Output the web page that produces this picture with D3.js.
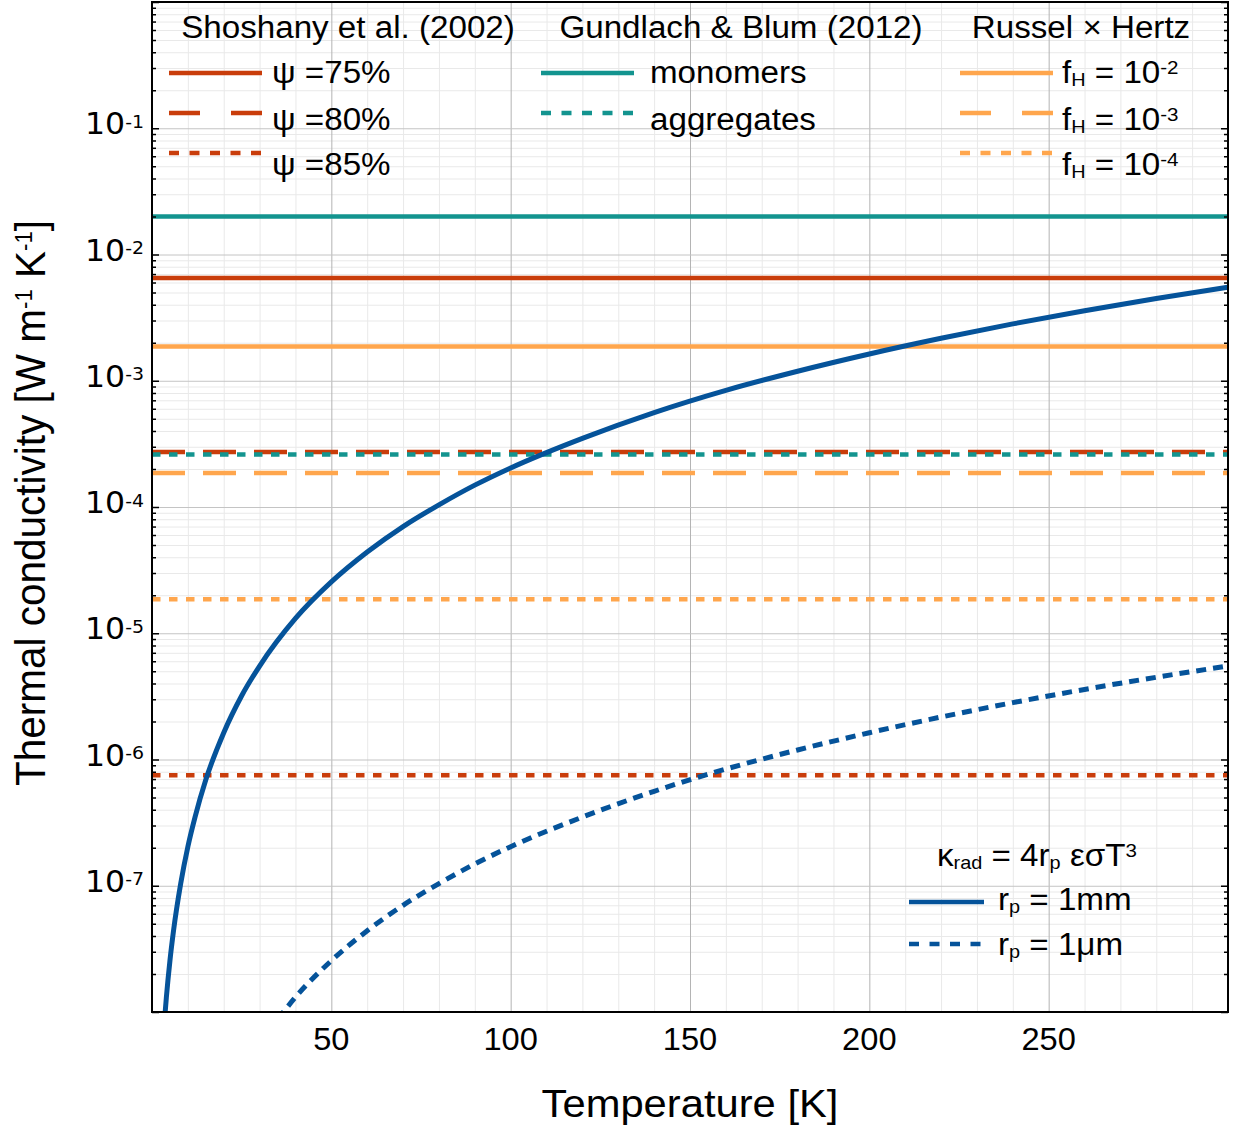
<!DOCTYPE html>
<html><head><meta charset="utf-8">
<script src="https://cdn.jsdelivr.net/npm/d3@7"></script>
<style>
body{margin:0;background:#fff}
text{font-family:"Liberation Sans",Arial,Helvetica,sans-serif;fill:#000}
</style>
</head><body>
<svg id="c" width="1233" height="1129"></svg>
<script>
// ---------- data ----------
const xTickValues = [50, 100, 150, 200, 250];
const yTickExponents = [-1, -2, -3, -4, -5, -6, -7];

const shoshanyLabels = ["75%", "80%", "85%"];
const shoshanyValues = [6.5e-3, 2.73e-4, 7.5e-7];

const gundlachLabels = ["monomers", "aggregates"];
const gundlachValues = [2.0e-2, 2.6e-4];

const russelExponents = ["-2", "-3", "-4"];
const russelValues = [1.87e-3, 1.86e-4, 1.86e-5];

const radTempsMM  = [3.5, 4, 5, 6, 8, 10, 12, 15, 20, 25, 30, 40, 50, 60, 70, 80, 90, 100, 120, 140, 160, 180, 200, 220, 240, 260, 280, 300];
const radValuesMM = [8.7e-9, 1.3e-8, 2.55e-8, 4.4e-8, 1.04e-7, 2.04e-7, 3.5e-7, 6.9e-7, 1.63e-6, 3.2e-6, 5.5e-6, 1.31e-5, 2.55e-5, 4.4e-5, 7.0e-5, 1.04e-4, 1.49e-4, 2.04e-4, 3.5e-4, 5.6e-4, 8.4e-4, 1.19e-3, 1.63e-3, 2.17e-3, 2.82e-3, 3.59e-3, 4.48e-3, 5.5e-3];

const radTempsUM  = [35, 40, 50, 60, 70, 80, 90, 100, 120, 140, 160, 180, 200, 220, 240, 260, 280, 300];
const radValuesUM = [8.7e-9, 1.31e-8, 2.55e-8, 4.4e-8, 7.0e-8, 1.04e-7, 1.49e-7, 2.04e-7, 3.5e-7, 5.6e-7, 8.4e-7, 1.19e-6, 1.63e-6, 2.17e-6, 2.82e-6, 3.59e-6, 4.48e-6, 5.5e-6];

// ---------- styling ----------
const C_RED = "#c93d0b", C_TEAL = "#13948f", C_ORANGE = "#ffa64d", C_BLUE = "#05539a";
const SX = 1.07;           // horizontal stretch of the reference picture
const FS = 31;
const LW = 4.5, LW_CURVE = 5;
const MATH = "'DejaVu Sans',sans-serif";

const svg = d3.select("#c");
const L = 152, R = 1228, T = 2, B = 1012;
const x = d3.scaleLinear().domain([0, 300]).range([L, R]);
const y = d3.scaleLog().domain([1e-8, 1]).range([B, T]);

// gridlines
const minorX = d3.range(10, 300, 10).filter(v => v % 50 !== 0);
const majorX = [0, 50, 100, 150, 200, 250, 300];
const minorY = [];
for (let e = -8; e < 0; e++) for (let k = 2; k <= 9; k++) minorY.push(k * Math.pow(10, e));
const majorY = d3.range(-8, 1).map(e => Math.pow(10, e));

const grid = svg.append("g");
function gridX(vals, color) {
  grid.append("g").attr("transform", `translate(0,${B})`)
    .call(d3.axisBottom(x).tickValues(vals).tickSize(-(B - T)).tickFormat(""))
    .call(g => g.select(".domain").remove())
    .call(g => g.selectAll("line").attr("stroke", color).attr("stroke-width", 1));
}
function gridY(vals, color) {
  grid.append("g").attr("transform", `translate(${L},0)`)
    .call(d3.axisLeft(y).tickValues(vals).tickSize(-(R - L)).tickFormat(""))
    .call(g => g.select(".domain").remove())
    .call(g => g.selectAll("line").attr("stroke", color).attr("stroke-width", 1));
}
gridX(minorX, "#e9e9e9");
gridY(minorY, "#e9e9e9");
gridX(majorX, "#b4b4b4");
gridY(majorY, "#c4c4c4");

// clip
svg.append("clipPath").attr("id", "clip").append("rect")
  .attr("x", L).attr("y", T).attr("width", R - L).attr("height", B - T);
const plot = svg.append("g").attr("clip-path", "url(#clip)");

function hline(v, color, dash) {
  plot.append("line").attr("x1", x(0)).attr("x2", x(300)).attr("y1", y(v)).attr("y2", y(v))
    .attr("stroke", color).attr("stroke-width", LW).attr("stroke-dasharray", dash || null);
}
const DASH = "33,18", DOT = "8.5,8.5";
const styles = [null, DASH, DOT];
shoshanyValues.forEach((v, i) => hline(v, C_RED, styles[i]));
gundlachValues.forEach((v, i) => hline(v, C_TEAL, [null, DOT][i]));
russelValues.forEach((v, i) => hline(v, C_ORANGE, styles[i]));

const line = d3.line().x(d => x(d[0])).y(d => y(d[1])).curve(d3.curveMonotoneX);
plot.append("path").datum(d3.zip(radTempsMM, radValuesMM)).attr("d", line)
  .attr("fill", "none").attr("stroke", C_BLUE).attr("stroke-width", LW_CURVE);
plot.append("path").datum(d3.zip(radTempsUM, radValuesUM)).attr("d", line)
  .attr("fill", "none").attr("stroke", C_BLUE).attr("stroke-width", LW_CURVE).attr("stroke-dasharray", "10,7");

// ticks (inward) on left and right
function yTicks(axisFn, xpos) {
  svg.append("g").attr("transform", `translate(${xpos},0)`)
    .call(axisFn(y).tickValues(minorY).tickSize(-4).tickFormat(""))
    .call(g => g.select(".domain").remove())
    .call(g => g.selectAll("line").attr("stroke", "#000").attr("stroke-width", 1.5));
  svg.append("g").attr("transform", `translate(${xpos},0)`)
    .call(axisFn(y).tickValues(majorY).tickSize(-7).tickFormat(""))
    .call(g => g.select(".domain").remove())
    .call(g => g.selectAll("line").attr("stroke", "#000").attr("stroke-width", 1.5));
}
yTicks(d3.axisLeft, L);
yTicks(d3.axisRight, R);

// frame
svg.append("rect").attr("x", L).attr("y", T).attr("width", R - L).attr("height", B - T)
  .attr("fill", "none").attr("stroke", "#000").attr("stroke-width", 2);

// rich text helper
function rich(parent, px, py, parts, opts = {}) {
  const fs = opts.fs || FS;
  const supSize = opts.supSize || 0.62, supRaise = opts.supRaise || 0.3;
  const subSize = opts.subSize || 0.6, subDrop = opts.subDrop || 0.1;
  const tr = opts.rotate
    ? `translate(${px},${py}) scale(${SX},1) rotate(${opts.rotate})`
    : `translate(${px},${py}) scale(${SX},1)`;
  const g = parent.append("g").attr("transform", tr);
  const t = g.append("text").attr("font-size", fs).attr("text-anchor", opts.anchor || "start");
  if (opts.family) t.style("font-family", opts.family);
  let shift = 0;
  parts.forEach(p => {
    let target = 0, size = fs;
    if (p.sub) { target = subDrop * fs; size = subSize * fs; }
    if (p.sup) { target = -supRaise * fs; size = supSize * fs; }
    const s = t.append("tspan").attr("font-size", size).text(p.t);
    if (target - shift !== 0) s.attr("dy", target - shift);
    shift = target;
  });
  return t;
}

// tick labels
const yLab = svg.append("g");
yTickExponents.forEach(e => {
  rich(yLab, 144, y(Math.pow(10, e)) + 6, [{t: "10"}, {t: String(e), sup: true}],
    {anchor: "end", fs: 29.5, family: MATH, supSize: 0.6, supRaise: 0.22});
});
const xLab = svg.append("g");
xTickValues.forEach(v => {
  rich(xLab, x(v), 1050, [{t: String(v)}], {anchor: "middle", fs: 30.5});
});

// axis titles
rich(svg, (L + R) / 2, 1117, [{t: "Temperature [K]"}], {anchor: "middle", fs: 39});
rich(svg, 45, 503, [{t: "Thermal conductivity [W m"}, {t: "-1", sup: true}, {t: " K"}, {t: "-1", sup: true}, {t: "]"}],
  {anchor: "middle", fs: 40.5, rotate: -90, supSize: 0.55, supRaise: 0.3});

// legends
const leg = svg.append("g");
function legLine(x1, x2, yy, color, dash) {
  leg.append("line").attr("x1", x1).attr("x2", x2).attr("y1", yy).attr("y2", yy)
    .attr("stroke", color).attr("stroke-width", LW).attr("stroke-dasharray", dash || null);
}
const LDASH = "31,31", LDOT = "10,10.5";
const legStyles = [null, LDASH, LDOT];
const lineY = [73, 113, 153];
const textY = [83, 130, 175];

rich(leg, 348, 38, [{t: "Shoshany et al. (2002)"}], {anchor: "middle"});
shoshanyLabels.forEach((lab, i) => {
  legLine(169, 262, lineY[i], C_RED, legStyles[i]);
  rich(leg, 272, textY[i], [{t: "ψ =" + lab}]);
});

rich(leg, 741, 38, [{t: "Gundlach & Blum (2012)"}], {anchor: "middle"});
gundlachLabels.forEach((lab, i) => {
  legLine(541, 634, lineY[i], C_TEAL, [null, LDOT][i]);
  rich(leg, 650, textY[i], [{t: lab}]);
});

rich(leg, 1081, 38, [{t: "Russel × Hertz"}], {anchor: "middle"});
russelExponents.forEach((ex, i) => {
  legLine(960, 1053, lineY[i], C_ORANGE, legStyles[i]);
  rich(leg, 1062, textY[i], [{t: "f"}, {t: "H", sub: true}, {t: " = 10"}, {t: ex, sup: true}]);
});

rich(leg, 937, 866, [{t: "κ"}, {t: "rad", sub: true}, {t: " = 4r"}, {t: "p", sub: true}, {t: " εσT"}, {t: "3", sup: true}]);
legLine(909, 984, 902, C_BLUE, null);
legLine(909, 984, 944, C_BLUE, LDOT);
rich(leg, 998, 910, [{t: "r"}, {t: "p", sub: true}, {t: " = 1mm"}]);
rich(leg, 998, 955, [{t: "r"}, {t: "p", sub: true}, {t: " = 1μm"}]);
</script>
</body></html>
